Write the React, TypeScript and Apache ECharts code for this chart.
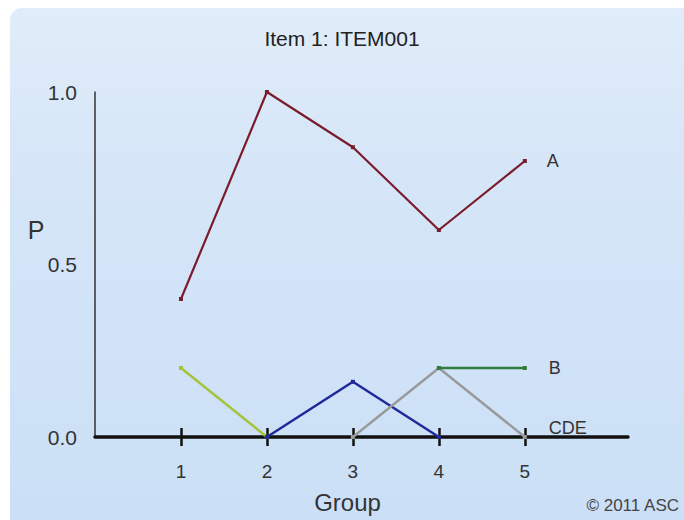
import React, { useEffect, useRef } from "react";
import * as echarts from "echarts";

const groups = [1, 2, 3, 4, 5];
const seriesA = [0.4, 1.0, 0.84, 0.6, 0.8];
const seriesB = [null, null, null, 0.2, 0.2];
const seriesC = [0.2, 0, null, null, null];
const seriesD = [null, 0, 0.16, 0, null];
const seriesE = [null, null, 0, 0.2, 0];
const yTicks = [0, 0.5, 1];
const titleText = "Item 1: ITEM001";
const yName = "P";
const xName = "Group";
const copyright = "© 2011 ASC";

function build(vals: (number | null)[], endLabel?: string, offset?: number[]) {
  return vals.map((v, i) => {
    const item: any = { value: [groups[i], v] };
    if (endLabel && i === vals.length - 1) {
      item.label = {
        show: true,
        formatter: endLabel,
        position: "right",
        distance: 0,
        offset: offset || [20, 0],
        color: "#333",
        fontSize: 18,
        fontFamily: "Liberation Sans, Arial, sans-serif",
      };
    }
    return item;
  });
}

export default function App() {
  const ref = useRef<HTMLDivElement>(null);
  useEffect(() => {
    document.body.style.margin = "0";
    const chart = echarts.init(ref.current!, null, { renderer: "svg" });
    const font = "Liberation Sans, Arial, sans-serif";
    const lineSeries = (name: string, data: any[], color: string, width: number) => ({
      name,
      type: "line",
      data,
      symbol: "rect",
      symbolSize: 4,
      connectNulls: false,
      lineStyle: { color, width },
      itemStyle: { color },
      z: 3,
    });
    chart.setOption({
      animation: false,
      backgroundColor: "#ffffff",
      graphic: [
        {
          type: "rect",
          shape: { x: 10, y: 8, width: 700, height: 530, r: 12 },
          style: {
            fill: {
              type: "linear",
              x: 0,
              y: 0,
              x2: 0,
              y2: 1,
              colorStops: [
                { offset: 0, color: "#e0ecf9" },
                { offset: 0.3, color: "#d6e6f8" },
                { offset: 1, color: "#cadff6" },
              ],
            },
          },
          z: -10,
          silent: true,
        },
        {
          type: "text",
          x: 679,
          y: 505,
          style: {
            text: copyright,
            fill: "#444",
            font: "17px " + font,
            textAlign: "right",
            textVerticalAlign: "middle",
          },
        },
        {
          type: "text",
          x: 36,
          y: 230,
          style: {
            text: yName,
            fill: "#333",
            font: "25px " + font,
            textAlign: "center",
            textVerticalAlign: "middle",
          },
        },
      ],
      title: {
        text: titleText,
        left: "center",
        top: 23,
        textStyle: { fontSize: 21, fontWeight: "normal", color: "#222", fontFamily: font },
      },
      grid: { left: 95, right: 56, top: 92, bottom: 83 },
      xAxis: [
        {
          type: "value",
          min: 0,
          max: 6.2,
          interval: 1,
          name: xName,
          nameLocation: "middle",
          nameGap: 53,
          nameTextStyle: { fontSize: 24, color: "#333", fontFamily: font, padding: [0, 28, 0, 0] },
          splitLine: { show: false },
          axisLine: { show: true, lineStyle: { color: "#111", width: 3.5 } },
          axisTick: { show: true, customValues: groups, length: 9, lineStyle: { color: "#111", width: 2.5 } },
          axisLabel: { customValues: groups, margin: 25, fontSize: 19, color: "#333", fontFamily: font },
        },
        {
          type: "value",
          min: 0,
          max: 6.2,
          position: "bottom",
          splitLine: { show: false },
          axisLine: { show: false },
          axisTick: { show: true, inside: true, customValues: groups, length: 9, lineStyle: { color: "#111", width: 2.5 } },
          axisLabel: { show: false },
        },
      ],
      yAxis: {
        type: "value",
        min: 0,
        max: 1,
        interval: 0.5,
        splitLine: { show: false },
        axisLine: { show: true, lineStyle: { color: "#333", width: 1.5 } },
        axisTick: { show: false },
        axisLabel: {
          customValues: yTicks,
          formatter: (v: number) => v.toFixed(1),
          margin: 18,
          fontSize: 21,
          color: "#333",
          fontFamily: font,
        },
      },
      series: [
        lineSeries("C", build(seriesC), "#a4c43c", 2.5),
        lineSeries("D", build(seriesD), "#1f2a9a", 2.5),
        lineSeries("E", build(seriesE, "CDE", [22, -9]), "#9a9a9a", 2.5),
        lineSeries("B", build(seriesB, "B", [22, 0]), "#2f7d3c", 2.5),
        lineSeries("A", build(seriesA, "A"), "#7a1c2c", 2.2),
      ],
    });
    return () => chart.dispose();
  }, []);
  return <div ref={ref} style={{ position: "absolute", left: 0, top: 0, width: 684, height: 520 }} />;
}
